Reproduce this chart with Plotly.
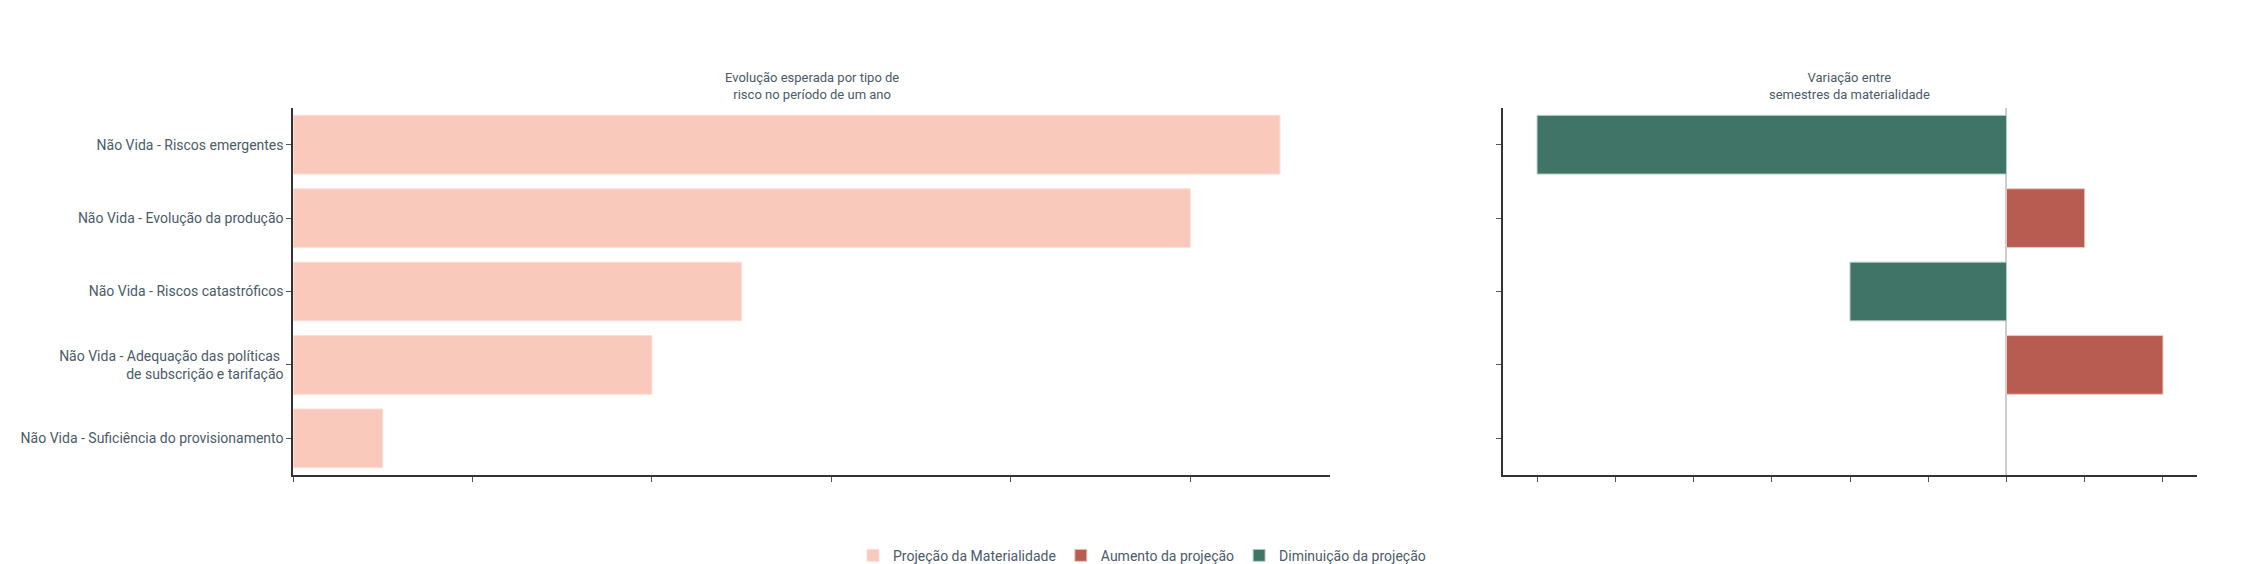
import plotly.graph_objects as go

riscos = [
    "Não Vida - Riscos emergentes",
    "Não Vida - Evolução da produção",
    "Não Vida - Riscos catastróficos",
    "Não Vida - Adequação das políticas <br>de subscrição e tarifação",
    "Não Vida - Suficiência do provisionamento",
]
projecao = [11, 10, 5, 4, 1]
variacao = [-6, 1, -2, 2, 0]

aumento = [v if v > 0 else None for v in variacao]
diminuicao = [v if v < 0 else None for v in variacao]

txt = "#4b5b69"
fig = go.Figure()
fig.add_trace(go.Bar(y=riscos, x=projecao, orientation="h", name="Projeção da Materialidade",
                     marker=dict(color="#f9c9bb", line=dict(color="#fbe0d8", width=1)),
                     xaxis="x", yaxis="y"))
fig.add_trace(go.Bar(y=riscos, x=aumento, orientation="h", name="Aumento da projeção",
                     marker=dict(color="#b85c52", line=dict(color="#e8c8c4", width=1)),
                     xaxis="x2", yaxis="y2"))
fig.add_trace(go.Bar(y=riscos, x=diminuicao, orientation="h", name="Diminuição da projeção",
                     marker=dict(color="#407466", line=dict(color="#b8cfc8", width=1)),
                     xaxis="x2", yaxis="y2"))

axis_common = dict(showline=True, linecolor="#333", linewidth=1.5, ticks="outside",
                   ticklen=5, tickcolor="#555", showgrid=False)
fig.update_layout(
    width=2268, height=564,
    font=dict(family="Roboto", size=14, color=txt),
    plot_bgcolor="white", paper_bgcolor="white",
    barmode="overlay", bargap=0.2,
    margin=dict(l=0, r=0, t=100, b=86),
    xaxis=dict(domain=[0.1257, 0.583], range=[0, 11.56], dtick=2, showticklabels=False,
               zeroline=False, **axis_common),
    yaxis=dict(domain=[0, 1], autorange="reversed", **axis_common),
    xaxis2=dict(domain=[0.659, 0.965], range=[-6.44, 2.43], dtick=1, showticklabels=False,
                zeroline=True, zerolinecolor="#c8ced3", zerolinewidth=1.5, anchor="y2",
                **axis_common),
    yaxis2=dict(domain=[0, 1], autorange="reversed", showticklabels=False, anchor="x2",
                **axis_common),
    legend=dict(orientation="h", x=0.5, xanchor="center", y=-0.22, yanchor="middle",
                font=dict(size=14)),
    annotations=[
        dict(text="Evolução esperada por tipo de<br>risco no período de um ano", x=0.3543,
             y=1.01, xref="paper", yref="paper", xanchor="center", yanchor="bottom",
             showarrow=False, font=dict(size=13)),
        dict(text="Variação entre<br>semestres da materialidade", x=0.812,
             y=1.01, xref="paper", yref="paper", xanchor="center", yanchor="bottom",
             showarrow=False, font=dict(size=13)),
    ],
)
fig.write_html("out.html")
